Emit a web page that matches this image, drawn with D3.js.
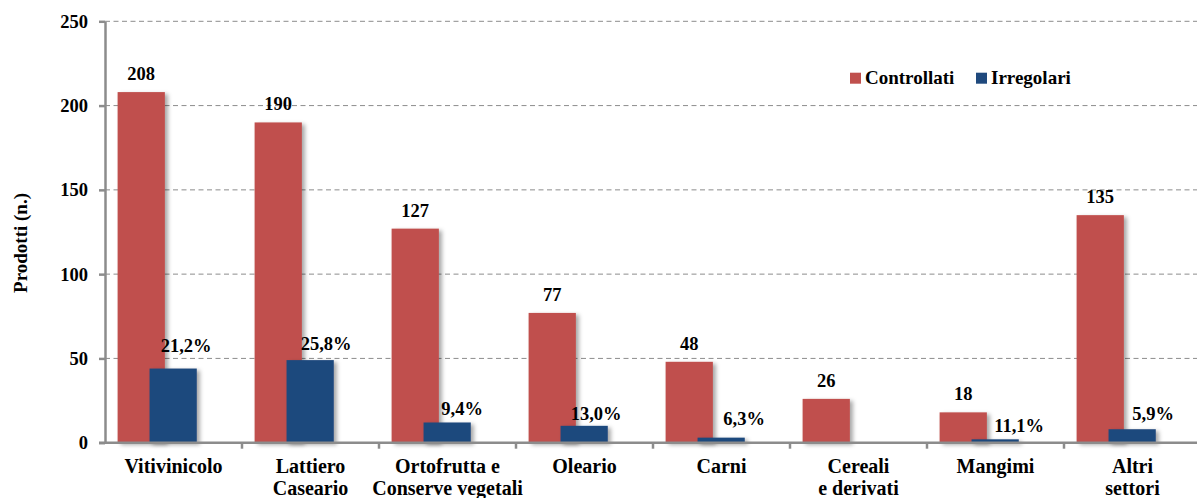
<!DOCTYPE html>
<html>
<head>
<meta charset="utf-8">
<script src="https://cdn.jsdelivr.net/npm/d3@7"></script>
<style>
    body { margin: 0; background: #fff; }
</style>
</head>
<body>
<svg id="chart" width="1197" height="498"></svg>
<script>
'use strict';

// data
var categories = ['Vitivinicolo', 'Lattiero Caseario', 'Ortofrutta e Conserve vegetali', 'Oleario',
    'Carni', 'Cereali e derivati', 'Mangimi', 'Altri settori'];
var categoryLines = [['Vitivinicolo'], ['Lattiero', 'Caseario'], ['Ortofrutta e', 'Conserve vegetali'], ['Oleario'],
    ['Carni'], ['Cereali', 'e derivati'], ['Mangimi'], ['Altri', 'settori']];
var controllati = [208, 190, 127, 77, 48, 26, 18, 135];
var irregolari = [44, 49, 12, 10, 3, 0, 2, 8];
var irregolariPct = ['21,2%', '25,8%', '9,4%', '13,0%', '6,3%', '', '11,1%', '5,9%'];
var yTicks = [0, 50, 100, 150, 200, 250];
var seriesNames = ['Controllati', 'Irregolari'];

// the % labels were dragged by hand in the original, so nudge them the same way
var pctNudgeX = [13, 16, 15, 12, 23, 0, 24, 21];
var pctNudgeY = [-23, -16, -14, -12, -19, 0, -14, -16];

var colors = { Controllati: '#c0504d', Irregolari: '#1f497d' };
var FONT = "'Liberation Serif', 'Times New Roman', serif";
var AXIS_GREY = '#8c8c8c';

var svg = d3.select('#chart');

var x = d3.scaleBand()
    .domain(categories)
    .range([105, 1201]);

var y = d3.scaleLinear()
    .domain([0, 250])
    .range([442.7, 21.3]);

var bw = x.bandwidth();

// all texts share the same bold serif look
function label(sel, size) {
    return sel
        .style('font-family', FONT)
        .style('font-weight', 'bold')
        .style('font-size', size + 'px')
        .style('fill', '#000');
}

/**
 * drop shadow for the bars
 */
var filter = svg.append('defs').append('filter')
    .attr('id', 'shadow')
    .attr('x', '-10%').attr('y', '-10%')
    .attr('width', '140%').attr('height', '130%');
filter.append('feDropShadow')
    .attr('dx', 3).attr('dy', 2)
    .attr('stdDeviation', 2)
    .attr('flood-color', '#000')
    .attr('flood-opacity', 0.35);

/**
 * dashed grid lines
 */
svg.append('g')
    .selectAll('line')
    .data(yTicks.slice(1))
    .enter().append('line')
    .attr('x1', x.range()[0])
    .attr('x2', 1197)
    .attr('y1', function (d) { return y(d); })
    .attr('y2', function (d) { return y(d); })
    .attr('stroke', AXIS_GREY)
    .attr('stroke-dasharray', '5,3.5');

/**
 * bars
 */
svg.append('g').attr('filter', 'url(#shadow)')
    .selectAll('rect')
    .data(controllati)
    .enter().append('rect')
    .attr('x', function (d, i) { return x(categories[i]) + bw * 0.092; })
    .attr('width', bw * 0.345)
    .attr('y', function (d) { return y(d); })
    .attr('height', function (d) { return y(0) - y(d); })
    .attr('fill', colors.Controllati);

svg.append('g').attr('filter', 'url(#shadow)')
    .selectAll('rect')
    .data(irregolari)
    .enter().append('rect')
    .attr('x', function (d, i) { return x(categories[i]) + bw * 0.325; })
    .attr('width', bw * 0.345)
    .attr('y', function (d) { return y(d); })
    .attr('height', function (d) { return y(0) - y(d); })
    .attr('fill', colors.Irregolari);

/**
 * axes
 */
var yAxis = svg.append('g')
    .attr('transform', 'translate(' + x.range()[0] + ',0)')
    .call(d3.axisLeft(y).tickValues(yTicks).tickSize(6).tickSizeOuter(0).tickPadding(11));
yAxis.selectAll('path, line').attr('stroke', AXIS_GREY).attr('stroke-width', 2.5);
label(yAxis.selectAll('text'), 18.5);

var xAxis = svg.append('g');
xAxis.append('line')
    .attr('x1', x.range()[0] - 6)
    .attr('x2', 1197)
    .attr('y1', y(0))
    .attr('y2', y(0))
    .attr('stroke', AXIS_GREY)
    .attr('stroke-width', 2.5);
xAxis.selectAll('line.tick')
    .data(categories.slice(1))
    .enter().append('line')
    .attr('class', 'tick')
    .attr('x1', function (d) { return x(d); })
    .attr('x2', function (d) { return x(d); })
    .attr('y1', y(0))
    .attr('y2', y(0) + 6)
    .attr('stroke', AXIS_GREY)
    .attr('stroke-width', 2.5);

// category labels, some on two lines
var catLabels = label(svg.append('g').selectAll('text')
    .data(categoryLines)
    .enter().append('text'), 20)
    .attr('text-anchor', 'middle')
    .attr('y', 472.5);
catLabels.selectAll('tspan')
    .data(function (d, i) { return d.map(function (s) { return { s: s, i: i }; }); })
    .enter().append('tspan')
    .attr('x', function (d) { return x(categories[d.i]) + bw / 2; })
    .attr('dy', function (d, j) { return j ? 22 : 0; })
    .text(function (d) { return d.s; });

// y axis title
label(svg.append('text'), 19)
    .attr('transform', 'translate(27,243) rotate(-90)')
    .attr('text-anchor', 'middle')
    .text('Prodotti (n.)');

/**
 * value labels
 */
label(svg.append('g').selectAll('text')
    .data(controllati)
    .enter().append('text'), 18.5)
    .attr('text-anchor', 'middle')
    .attr('x', function (d, i) { return x(categories[i]) + bw * (0.092 + 0.1725); })
    .attr('y', function (d) { return y(d) - 12; })
    .text(function (d) { return d; });

label(svg.append('g').selectAll('text')
    .data(irregolari)
    .enter().append('text'), 18.5)
    .attr('text-anchor', 'middle')
    .attr('x', function (d, i) { return x(categories[i]) + bw * (0.325 + 0.1725) + pctNudgeX[i]; })
    .attr('y', function (d, i) { return y(d) + pctNudgeY[i] + 6.3; })
    .text(function (d, i) { return irregolariPct[i]; });

/**
 * legend
 */
var legendItem = svg.append('g')
    .attr('transform', 'translate(850,72.7)')
    .selectAll('g')
    .data(seriesNames)
    .enter().append('g')
    .attr('transform', function (d, i) { return 'translate(' + (i * 126) + ',0)'; });
legendItem.append('rect')
    .attr('width', 11)
    .attr('height', 11)
    .attr('fill', function (d) { return colors[d]; });
label(legendItem.append('text'), 19)
    .attr('x', 15)
    .attr('y', 11)
    .text(function (d) { return d; });
</script>
</body>
</html>
